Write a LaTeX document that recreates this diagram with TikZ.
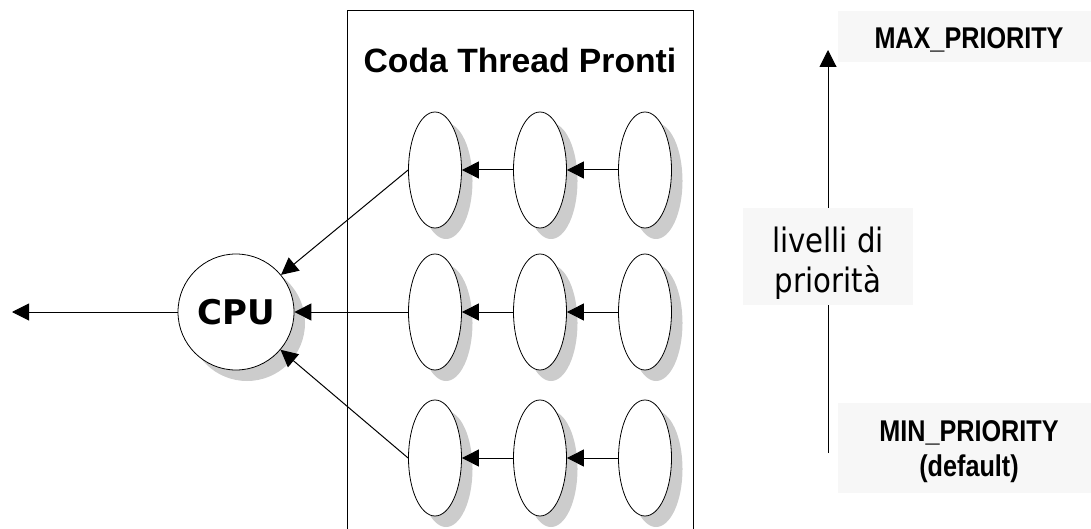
\documentclass[tikz,border=0pt]{standalone}
\usepackage{fontspec}
\setmainfont{Liberation Sans}
\newfontfamily\titlefont{Liberation Sans Bold}
\newfontfamily\labelfont{DejaVu Sans}[FakeStretch=0.87]
\newfontfamily\cpufont{DejaVu Sans Bold}
\newfontfamily\narrowfont{Liberation Sans Bold}[FakeStretch=0.84]
\usetikzlibrary{shapes.geometric,arrows.meta,shadows}

\tikzset{
  conn/.style={line width=1pt, -{Triangle[length=17pt,width=17pt]}},
  dshadow/.style={general shadow={fill=black!20, shadow xshift=11pt, shadow yshift=-11pt}},
  thread/.style={ellipse, draw, line width=0.8pt, fill=white, inner sep=0pt,
    minimum width=53pt, minimum height=116pt, dshadow},
  cpunode/.style={circle, draw, line width=0.8pt, fill=white, inner sep=0pt,
    minimum size=116pt, dshadow, font=\cpufont\fontsize{34}{40}\selectfont},
  tag/.style={fill=black!3, inner sep=0pt},
  narrowtxt/.style={font=\narrowfont\fontsize{30}{36}\selectfont, anchor=base, inner sep=0pt},
  leveltxt/.style={font=\labelfont\fontsize{33.6}{40}\selectfont, anchor=base, inner sep=0pt}
}

\begin{document}
\begin{tikzpicture}[x=1pt, y=-1pt]
\useasboundingbox (0,0) rectangle (1091,529);

% ready-queue frame (open at the bottom)
\draw[line width=1pt] (347,529) -- (347,11) -- (693,11) -- (693,529);
\node[font=\titlefont\fontsize{33.7}{40}\selectfont, inner sep=0pt] (title) at (520,60) {Coda Thread Pronti};

% threads, one row per priority level
\foreach \r/\yy in {1/170, 2/312, 3/458} {
  \node[thread] (t\r a) at (435,\yy) {};
  \node[thread] (t\r b) at (540,\yy) {};
  \node[thread] (t\r c) at (645,\yy) {};
}

% processor
\node[cpunode] (cpu) at (236,312) {CPU};
\coordinate (out) at (12,312);

% links inside each row
\foreach \r in {1,2,3} {
  \draw[conn] (t\r c.west) -- (t\r b.east);
  \draw[conn] (t\r b.west) -- (t\r a.east);
}

% heads of the rows to the CPU
\draw[conn] (t1a.west) -- (cpu);
\draw[conn] (t2a.west) -- (cpu.east);
\draw[conn] (t3a.west) -- (cpu);
\draw[conn] (cpu.west) -- (out);

% priority scale
\coordinate (pbot) at (828,453);
\coordinate (ptop) at (828,50);
\draw[conn] (pbot) -- (ptop);

\node[tag, minimum width=170pt, minimum height=97pt] (lvbox) at (828,256.5) {};
\node[leveltxt] (lv1) at (828,252) {livelli di};
\node[leveltxt] (lv2) at (828,292) {priorità};

\node[tag, minimum width=253pt, minimum height=51pt] (maxbox) at (964.5,36.5) {};
\node[narrowtxt] (maxtxt) at (969,48.3) {MAX\_PRIORITY};

\node[tag, minimum width=253pt, minimum height=90pt] (minbox) at (964.5,448) {};
\node[narrowtxt] (mintxt) at (969,441.7) {MIN\_PRIORITY};
\node[narrowtxt] (deftxt) at (969,476.7) {(default)};
\end{tikzpicture}
\end{document}
